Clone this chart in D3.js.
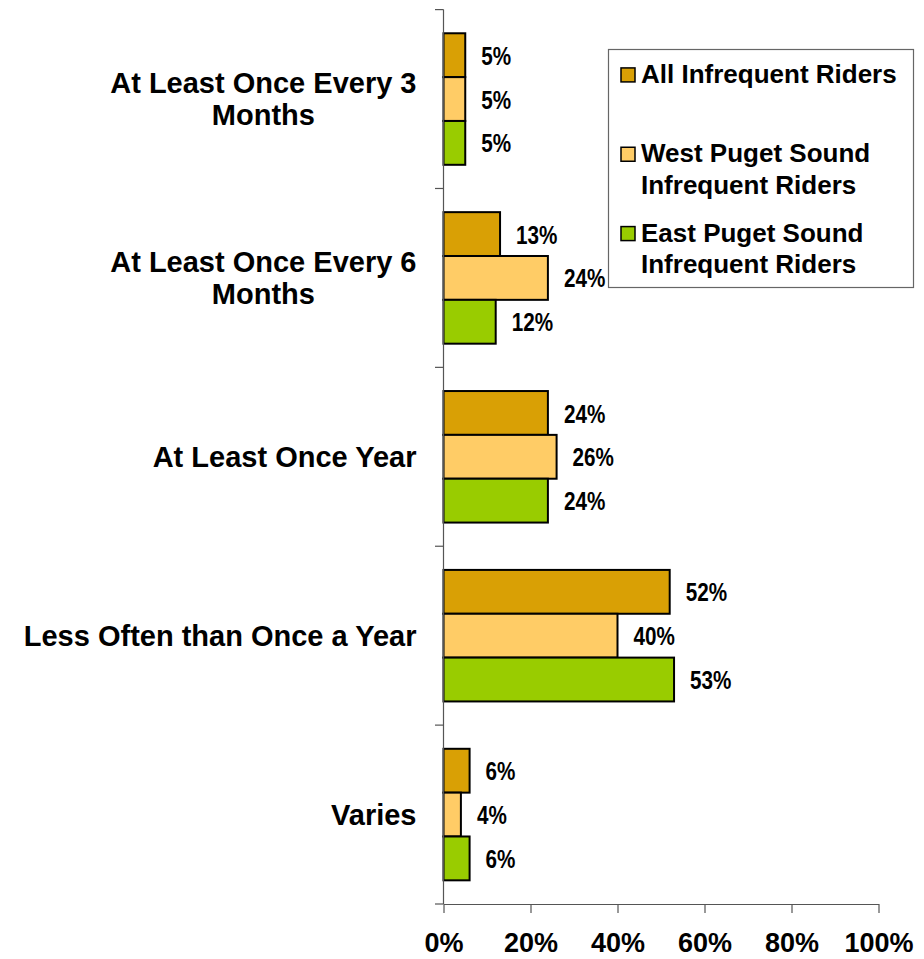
<!DOCTYPE html>
<html>
<head>
<meta charset="utf-8">
<script src="https://cdn.jsdelivr.net/npm/d3@7"></script>
<style>
  body { margin: 0; background: #fff; }
  svg { display: block; }
</style>
</head>
<body>
<svg id="chart"></svg>
<script>
// data
const categories = [
    "At Least Once Every 3 Months",
    "At Least Once Every 6 Months",
    "At Least Once Year",
    "Less Often than Once a Year",
    "Varies"
];
const seriesNames = [
    "All Infrequent Riders",
    "West Puget Sound Infrequent Riders",
    "East Puget Sound Infrequent Riders"
];
const allRiders = [5, 13, 24, 52, 6];
const westRiders = [5, 24, 26, 40, 4];
const eastRiders = [5, 12, 24, 53, 6];
const xTicks = [0, 20, 40, 60, 80, 100];

const colors = ["#d9a005", "#ffcc66", "#99cc00"];
const seriesValues = [allRiders, westRiders, eastRiders];

const W = 924, H = 959;
const svg = d3.select("#chart").attr("width", W).attr("height", H);

const plotLeft = 443.5, plotRight = 878.5, plotTop = 9.6, plotBottom = 904;
const boldFont = "'Liberation Sans', Arial, sans-serif";

const x = d3.scaleLinear().domain([0, 100]).range([plotLeft, plotRight]);
const y0 = d3.scaleBand().domain(categories).range([plotTop, plotBottom]).padding(0);
const y1 = d3.scaleBand().domain(seriesNames).range([0, y0.bandwidth()])
    .paddingInner(0).paddingOuter(0.54);

// wrap helper: splits words into lines no wider than maxW
function wrapLines(textSel, str, maxW) {
    const words = str.split(" ");
    const lines = [];
    let cur = "";
    words.forEach(w => {
        const test = cur ? cur + " " + w : w;
        textSel.text(test);
        if (textSel.node().getComputedTextLength() > maxW && cur) {
            lines.push(cur);
            cur = w;
        } else {
            cur = test;
        }
    });
    lines.push(cur);
    textSel.text(null);
    return lines;
}

//bars
const rows = [];
categories.forEach((c, i) => {
    seriesNames.forEach((s, j) => {
        rows.push({ cat: c, series: s, value: seriesValues[j][i], idx: j });
    });
});

svg.append("g").selectAll("rect")
    .data(rows)
    .enter()
    .append("rect")
    .attr("x", x(0))
    .attr("y", d => y0(d.cat) + y1(d.series))
    .attr("width", d => x(d.value) - x(0))
    .attr("height", y1.bandwidth())
    .attr("fill", d => colors[d.idx])
    .attr("stroke", "#000")
    .attr("stroke-width", 2);

//value labels (condensed like Arial Narrow)
svg.append("g").selectAll("text")
    .data(rows)
    .enter()
    .append("text")
    .attr("transform", d => `translate(${x(d.value) + 16},${y0(d.cat) + y1(d.series) + y1.bandwidth() / 2}) scale(0.78,1)`)
    .attr("dy", "0.36em")
    .style("font-family", boldFont)
    .style("font-weight", "bold")
    .style("font-size", "26.5px")
    .style("fill", "#000")
    .text(d => d.value + "%");

//y axis line + ticks at band boundaries
const yAxis = svg.append("g");
yAxis.append("line")
    .attr("x1", plotLeft).attr("x2", plotLeft)
    .attr("y1", plotTop).attr("y2", plotBottom)
    .attr("stroke", "#555").attr("stroke-width", 1.2);
const bounds = categories.map(c => y0(c)).concat([y0.range()[1]]);
yAxis.selectAll(".ytick")
    .data(bounds)
    .enter()
    .append("line")
    .attr("x1", plotLeft - 8.5).attr("x2", plotLeft)
    .attr("y1", d => d).attr("y2", d => d)
    .attr("stroke", "#555").attr("stroke-width", 1.2);

//x axis
const xAxis = svg.append("g")
    .attr("transform", `translate(0,${plotBottom})`)
    .call(d3.axisBottom(x).tickValues(xTicks).tickSize(9).tickSizeOuter(0)
        .tickPadding(20).tickFormat(d => d + "%"));
xAxis.select(".domain").attr("stroke", "#555").attr("stroke-width", 1.2);
xAxis.selectAll(".tick line").attr("stroke", "#555").attr("stroke-width", 1.2);
xAxis.selectAll("text")
    .style("font-family", boldFont)
    .style("font-weight", "bold")
    .style("font-size", "27px")
    .style("fill", "#000");

//category labels
const catG = svg.append("g");
categories.forEach(c => {
    const t = catG.append("text")
        .style("font-family", boldFont)
        .style("font-weight", "bold")
        .style("font-size", "29px")
        .style("fill", "#000")
        .attr("text-anchor", "middle");
    const lines = wrapLines(t, c, 405);
    const widths = lines.map(l => { t.text(l); return t.node().getComputedTextLength(); });
    t.text(null);
    const blockW = d3.max(widths);
    const cx = 416.5 - blockW / 2;
    const lh = 32;
    const mid = y0(c) + y0.bandwidth() / 2;
    const firstBase = mid - (lines.length - 1) * lh / 2 + 10.4;
    lines.forEach((l, k) => {
        t.append("tspan").attr("x", cx).attr("y", firstBase + k * lh).text(l);
    });
});

//legend
const lg = svg.append("g");
const lgX = 608.5, lgY = 49.5, lgW = 305, lgH = 238;
lg.append("rect")
    .attr("x", lgX).attr("y", lgY)
    .attr("width", lgW).attr("height", lgH)
    .attr("fill", "#fff")
    .attr("stroke", "#666").attr("stroke-width", 1.2);
const slotH = lgH / seriesNames.length;
const lgLh = 31.5;
seriesNames.forEach((s, i) => {
    const t = lg.append("text")
        .style("font-family", boldFont)
        .style("font-weight", "bold")
        .style("font-size", "26px")
        .style("fill", "#000");
    const lines = wrapLines(t, s, 265);
    const base = lgY + slotH * i + slotH / 2 - lgLh / 2 + 9.5;
    lines.forEach((l, k) => {
        t.append("tspan").attr("x", 641).attr("y", base + k * lgLh).text(l);
    });
    lg.append("rect")
        .attr("x", 621).attr("y", base - 15)
        .attr("width", 14).attr("height", 14)
        .attr("fill", colors[i])
        .attr("stroke", "#000").attr("stroke-width", 1.5);
});
</script>
</body>
</html>
